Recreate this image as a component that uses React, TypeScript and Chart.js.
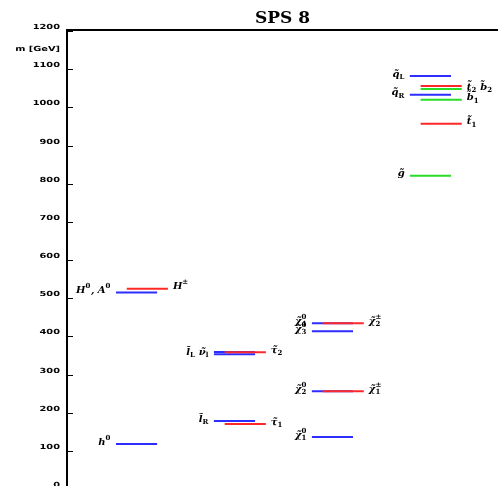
import { useEffect, useRef } from 'react';
import { Chart, registerables } from 'chart.js';

Chart.register(...registerables);

// ---- data ----
const TITLE = 'SPS 8';
const Y_AXIS_LABEL = 'm [GeV]';
const Y_TICKS = [0, 100, 200, 300, 400, 500, 600, 700, 800, 900, 1000, 1100, 1200];

// mass levels (GeV)
const LEVEL_NAMES = ['h0', 'H0A0', 'Hpm', 'lL', 'nu', 'tau2', 'lR', 'tau1', 'chi01', 'chi02', 'chipm1', 'chi03', 'chi04', 'chipm2', 'gluino', 'qL', 'qR', 'b1', 'b2', 't1', 't2'];
const LEVEL_MASSES = [118, 515, 525, 359, 353, 358, 178, 170, 136, 256, 256, 413, 434, 434, 821, 1082, 1033, 1020, 1048, 957, 1056];
// column: 0 Higgs, 1 sleptons, 2 gauginos, 3 squarks & gluino
const LEVEL_COLUMN = [0, 0, 0, 1, 1, 1, 1, 1, 2, 2, 2, 2, 2, 2, 3, 3, 3, 3, 3, 3, 3];
// sub-column within a column: 0 = first, 1 = second
const LEVEL_SLOT = [0, 0, 1, 0, 0, 1, 0, 1, 0, 0, 1, 0, 0, 1, 0, 0, 0, 1, 1, 1, 1];
// kind: n = blue, c = red, g = green
const LEVEL_KIND = ['n', 'n', 'c', 'n', 'n', 'c', 'n', 'c', 'n', 'n', 'c', 'n', 'n', 'c', 'g', 'n', 'n', 'g', 'g', 'c', 'c'];

// text labels attached to levels
const LABEL_TEXT = ['h^0', 'H^0, A^0', 'H^±', 'l~_L ν~_l', 'τ~_2', 'l~_R', 'τ~_1', 'χ~^0_1', 'χ~^0_2', 'χ~^±_1', 'χ~^0_3', 'χ~^0_4', 'χ~^±_2', 'g~', 'q~_L', 'q~_R', 'b~_1', 't~_2 b~_2', 't~_1'];
const LABEL_LEVEL = ['h0', 'H0A0', 'Hpm', 'nu', 'tau2', 'lR', 'tau1', 'chi01', 'chi02', 'chipm1', 'chi03', 'chi04', 'chipm2', 'gluino', 'qL', 'qR', 'b1', 'b2', 't1'];
const LABEL_SIDE = ['left', 'left', 'right', 'left', 'right', 'left', 'right', 'left', 'left', 'right', 'left', 'left', 'right', 'left', 'left', 'left', 'right', 'right', 'right'];

const COLORS: Record<string, string> = {
  n: 'rgb(45,45,255)',
  c: 'rgb(255,40,40)',
  g: 'rgb(40,220,40)',
};

// ---- rich text helper ----
type Tok = { t: string; k: 'n' | 'sub' | 'sup' };
function parseRich(s: string): Tok[] {
  const toks: Tok[] = [];
  for (let i = 0; i < s.length; i++) {
    const c = s[i];
    if (c === '~' && toks.length) {
      toks[toks.length - 1].t += '\u0303';
      continue;
    }
    if ((c === '_' || c === '^') && i + 1 < s.length) {
      toks.push({ t: s[i + 1], k: c === '_' ? 'sub' : 'sup' });
      i++;
      continue;
    }
    toks.push({ t: c, k: 'n' });
  }
  return toks;
}

type Group = { n?: string; sup?: string; sub?: string };
function groupRich(toks: Tok[]): Group[] {
  const groups: Group[] = [];
  for (const tk of toks) {
    const last = groups[groups.length - 1];
    if (tk.k === 'n') {
      groups.push({ n: tk.t });
    } else {
      if (last && last.n === undefined && !(last as any)[tk.k]) {
        (last as any)[tk.k] = tk.t;
      } else {
        const g: Group = {};
        (g as any)[tk.k] = tk.t;
        groups.push(g);
      }
    }
  }
  return groups;
}

const BIG = 'bold italic 10px "DejaVu Serif"';
const SMALL = 'bold 7px "DejaVu Serif"';

function drawRich(ctx: CanvasRenderingContext2D, text: string, x: number, y: number, align: 'left' | 'right') {
  const groups = groupRich(parseRich(text));
  const widths = groups.map((g) => {
    if (g.n !== undefined) {
      ctx.font = BIG;
      return ctx.measureText(g.n).width;
    }
    ctx.font = SMALL;
    return Math.max(g.sup ? ctx.measureText(g.sup).width : 0, g.sub ? ctx.measureText(g.sub).width : 0) + 0.5;
  });
  const total = widths.reduce((a, b) => a + b, 0);
  let cx = align === 'left' ? x : x - total;
  ctx.textAlign = 'left';
  ctx.textBaseline = 'middle';
  ctx.fillStyle = '#000';
  groups.forEach((g, i) => {
    if (g.n !== undefined) {
      ctx.font = BIG;
      ctx.fillText(g.n, cx, y);
    } else {
      ctx.font = SMALL;
      if (g.sup) ctx.fillText(g.sup, cx, y - 4);
      if (g.sub) ctx.fillText(g.sub, cx, y + 3);
    }
    cx += widths[i];
  });
}

const decorPlugin = {
  id: 'decor',
  afterDraw(chart: any) {
    const ctx: CanvasRenderingContext2D = chart.ctx;
    const { left, right, top, bottom } = chart.chartArea;
    const ys = chart.scales.y;
    ctx.save();
    // axes
    ctx.strokeStyle = '#000';
    ctx.lineWidth = 2;
    ctx.beginPath();
    ctx.moveTo(left, bottom + 5);
    ctx.lineTo(left, top - 1);
    ctx.lineTo(right + 2, top - 1);
    ctx.stroke();
    // ticks & tick labels
    ctx.lineWidth = 1;
    Y_TICKS.forEach((v) => {
      const y = Math.round(ys.getPixelForValue(v)) + 0.5;
      ctx.beginPath();
      ctx.moveTo(left, y);
      ctx.lineTo(left + 6, y);
      ctx.stroke();
      ctx.save();
      ctx.translate(left - 7, y - 4);
      ctx.scale(1.4, 1);
      ctx.font = 'bold 7px "DejaVu Sans"';
      ctx.fillStyle = '#000';
      ctx.textAlign = 'right';
      ctx.textBaseline = 'middle';
      ctx.fillText(String(v), 0, 0);
      ctx.restore();
    });
    // axis label
    ctx.save();
    ctx.translate(left - 7, ys.getPixelForValue(1150) - 1);
    ctx.scale(1.4, 1);
    ctx.font = 'bold 7px "DejaVu Sans"';
    ctx.fillStyle = '#000';
    ctx.textAlign = 'right';
    ctx.textBaseline = 'middle';
    ctx.fillText(Y_AXIS_LABEL, 0, 0);
    ctx.restore();
    // title
    ctx.font = 'bold 17px "DejaVu Serif"';
    ctx.fillStyle = '#000';
    ctx.textAlign = 'center';
    ctx.textBaseline = 'alphabetic';
    ctx.fillText(TITLE, (left + right) / 2, 23);
    // level labels
    LABEL_TEXT.forEach((txt, i) => {
      const idx = LEVEL_NAMES.indexOf(LABEL_LEVEL[i]);
      const meta = chart.getDatasetMeta(idx);
      const p0 = meta.data[0];
      const p1 = meta.data[1];
      const y = p0.y - 2;
      if (LABEL_SIDE[i] === 'left') drawRich(ctx, txt, p0.x - 5, y, 'right');
      else drawRich(ctx, txt, p1.x + 5, y, 'left');
    });
    ctx.restore();
  },
};

export default function App() {
  const ref = useRef<HTMLCanvasElement>(null);
  useEffect(() => {
    const canvas = ref.current!;
    const datasets = LEVEL_NAMES.map((name, i) => {
      const x0 = LEVEL_COLUMN[i] + 0.5 + LEVEL_SLOT[i] * 0.11;
      return {
        label: name,
        data: [
          { x: x0, y: LEVEL_MASSES[i] },
          { x: x0 + 0.42, y: LEVEL_MASSES[i] },
        ],
        borderColor: COLORS[LEVEL_KIND[i]],
        backgroundColor: COLORS[LEVEL_KIND[i]],
        borderWidth: 2,
        pointRadius: 0,
        fill: false,
        order: LEVEL_KIND[i] === 'n' ? 1 : 0,
      };
    });
    const chart = new Chart(canvas, {
      type: 'line',
      data: { datasets } as any,
      options: {
        responsive: false,
        animation: false,
        devicePixelRatio: 1,
        layout: { padding: { left: 67, top: 31, right: 0, bottom: 11 } },
        scales: {
          x: { type: 'linear', min: 0, max: 4.4, display: false },
          y: { type: 'linear', min: 0, max: 1200, display: false },
        },
        plugins: {
          legend: { display: false },
          tooltip: { enabled: false },
          title: { display: false },
        },
      } as any,
      plugins: [decorPlugin],
    });
    return () => chart.destroy();
  }, []);
  return (
    <div style={{ position: 'fixed', left: 0, top: 0, width: 498, height: 486, overflow: 'hidden', background: '#fff' }}>
      <canvas ref={ref} width={498} height={500} style={{ display: 'block' }} />
    </div>
  );
}
